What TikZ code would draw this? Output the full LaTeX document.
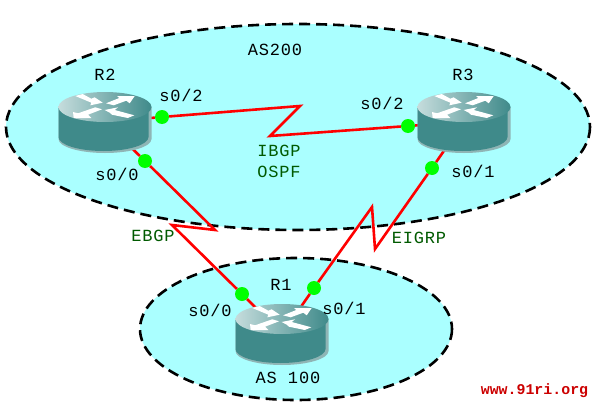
\documentclass[tikz,border=0pt]{standalone}
\usepackage{fontspec}
\usetikzlibrary{shadings}
\newfontfamily\labelfont[LetterSpace=5]{Liberation Mono}
\newfontfamily\markfont{Liberation Mono}
\definecolor{areacyan}{HTML}{AAFFFF}
\definecolor{routerteal}{HTML}{3F8A8A}
\definecolor{routeredge}{HTML}{8FB5B5}
\definecolor{routerlight}{HTML}{C5DCDC}
\definecolor{labelgreen}{HTML}{005A00}
\tikzset{
  area/.style={draw=black,fill=areacyan,line width=2.6pt,dash pattern=on 11pt off 6pt},
  link/.style={draw=red,line width=2.6pt,line join=miter},
  port/.style={circle,fill=green,minimum size=14pt,inner sep=0pt},
  lbl/.style={font=\labelfont\fontsize{17}{19}\selectfont,text=black,inner sep=0pt},
  bgplbl/.style={lbl,text=labelgreen},
  wmark/.style={font=\markfont\bfseries\fontsize{14.9}{16}\selectfont,text=red!80!black,inner sep=0pt},
  flow/.style={fill=white},
  router/.pic={
    \fill[routeredge] (-46.5,-15) -- (-46.5,17) arc[start angle=180,end angle=0,x radius=46.5,y radius=14] -- (46.5,-15) -- cycle;
    \fill[routerteal] (-46.5,-15) -- (-46.5,15) arc[start angle=180,end angle=0,x radius=45,y radius=14] -- (43.5,-15) -- cycle;
    \shade[left color=routerlight,middle color=routerteal,right color=routerteal] (0,-15) ellipse[x radius=46.5,y radius=15];
    \fill[flow] (-29.7,-26) -- (-22.3,-28) -- (-13.7,-23.3) -- (-10.3,-24.7) -- (-2.3,-19.3) -- (-14.7,-16.7) -- (-13.7,-19.3) -- cycle;
    \fill[flow] (1,-18.7) -- (14.3,-24) -- (12,-26) -- (29.7,-26) -- (24.7,-18.7) -- (21.3,-21.3) -- (8.7,-16.7) -- cycle;
    \fill[flow] (-9.7,-14.7) -- (-3,-12.7) -- (-17,-7.3) -- (-13.7,-4) -- (-31.3,-4) -- (-32,-10) -- (-27,-8.7) -- cycle;
    \fill[flow] (-0.3,-12) -- (13,-14.7) -- (9.7,-12) -- (29.3,-6.7) -- (22.7,-4) -- (7,-7.3) -- (4.7,-9.3) -- cycle;
  }
}
\begin{document}
\begin{tikzpicture}[x=1pt,y=-1pt]
  \useasboundingbox (0,0) rectangle (606,407);
  \fill[white] (0,0) rectangle (606,407);
  \draw[area] (298,127) ellipse[x radius=292,y radius=103];
  \draw[area] (296,329) ellipse[x radius=156,y radius=71];

  \coordinate (r2) at (105,122);
  \coordinate (r3) at (464,122);
  \coordinate (r1) at (282,334);
  \node[port] (r2s2) at (162,117) {};
  \node[port] (r2s0) at (145,161) {};
  \node[port] (r3s2) at (408,126) {};
  \node[port] (r3s1) at (432,168) {};
  \node[port] (r1s0) at (242,294) {};
  \node[port] (r1s1) at (314,288) {};
  \coordinate (ibgpa) at (300,106);
  \coordinate (ibgpb) at (270,136);
  \coordinate (ebgpa) at (215,230);
  \coordinate (ebgpb) at (172,225);
  \coordinate (eigrpa) at (375,249);
  \coordinate (eigrpb) at (372,207);

  \draw[link] (r2) -- (r2s2);
  \draw[link] (r2s2) -- (ibgpa) -- (ibgpb) -- (r3s2);
  \draw[link] (r3s2) -- (r3);
  \draw[link] (r2) -- (r2s0);
  \draw[link] (r2s0) -- (ebgpa) -- (ebgpb) -- (r1s0);
  \draw[link] (r1s0) -- (r1);
  \draw[link] (r3) -- (r3s1);
  \draw[link] (r3s1) -- (eigrpa) -- (eigrpb) -- (r1s1);
  \draw[link] (r1s1) -- (r1);
  \pic at (r2) {router};
  \pic at (r3) {router};
  \pic at (r1) {router};

  \node[lbl] (as200) at (275,50) {AS200};
  \node[lbl] (as100) at (288,378) {AS 100};
  \node[lbl] (namer2) at (105,75) {R2};
  \node[lbl] (namer3) at (463,75) {R3};
  \node[lbl] (namer1) at (281,285) {R1};
  \node[lbl] (lr2s2) at (181,95) {s0/2};
  \node[lbl] (lr2s0) at (117,174) {s0/0};
  \node[lbl] (lr3s2) at (382,103) {s0/2};
  \node[lbl] (lr3s1) at (473,171) {s0/1};
  \node[lbl] (lr1s0) at (210,310) {s0/0};
  \node[lbl] (lr1s1) at (344,308) {s0/1};
  \node[bgplbl] (ibgp) at (279,151) {IBGP};
  \node[bgplbl] (ospf) at (279,172) {OSPF};
  \node[bgplbl] (ebgp) at (153,236) {EBGP};
  \node[bgplbl] (eigrp) at (419,238) {EIGRP};
  \node[wmark] (site) at (534.5,391) {www.91ri.org};
\end{tikzpicture}
\end{document}
